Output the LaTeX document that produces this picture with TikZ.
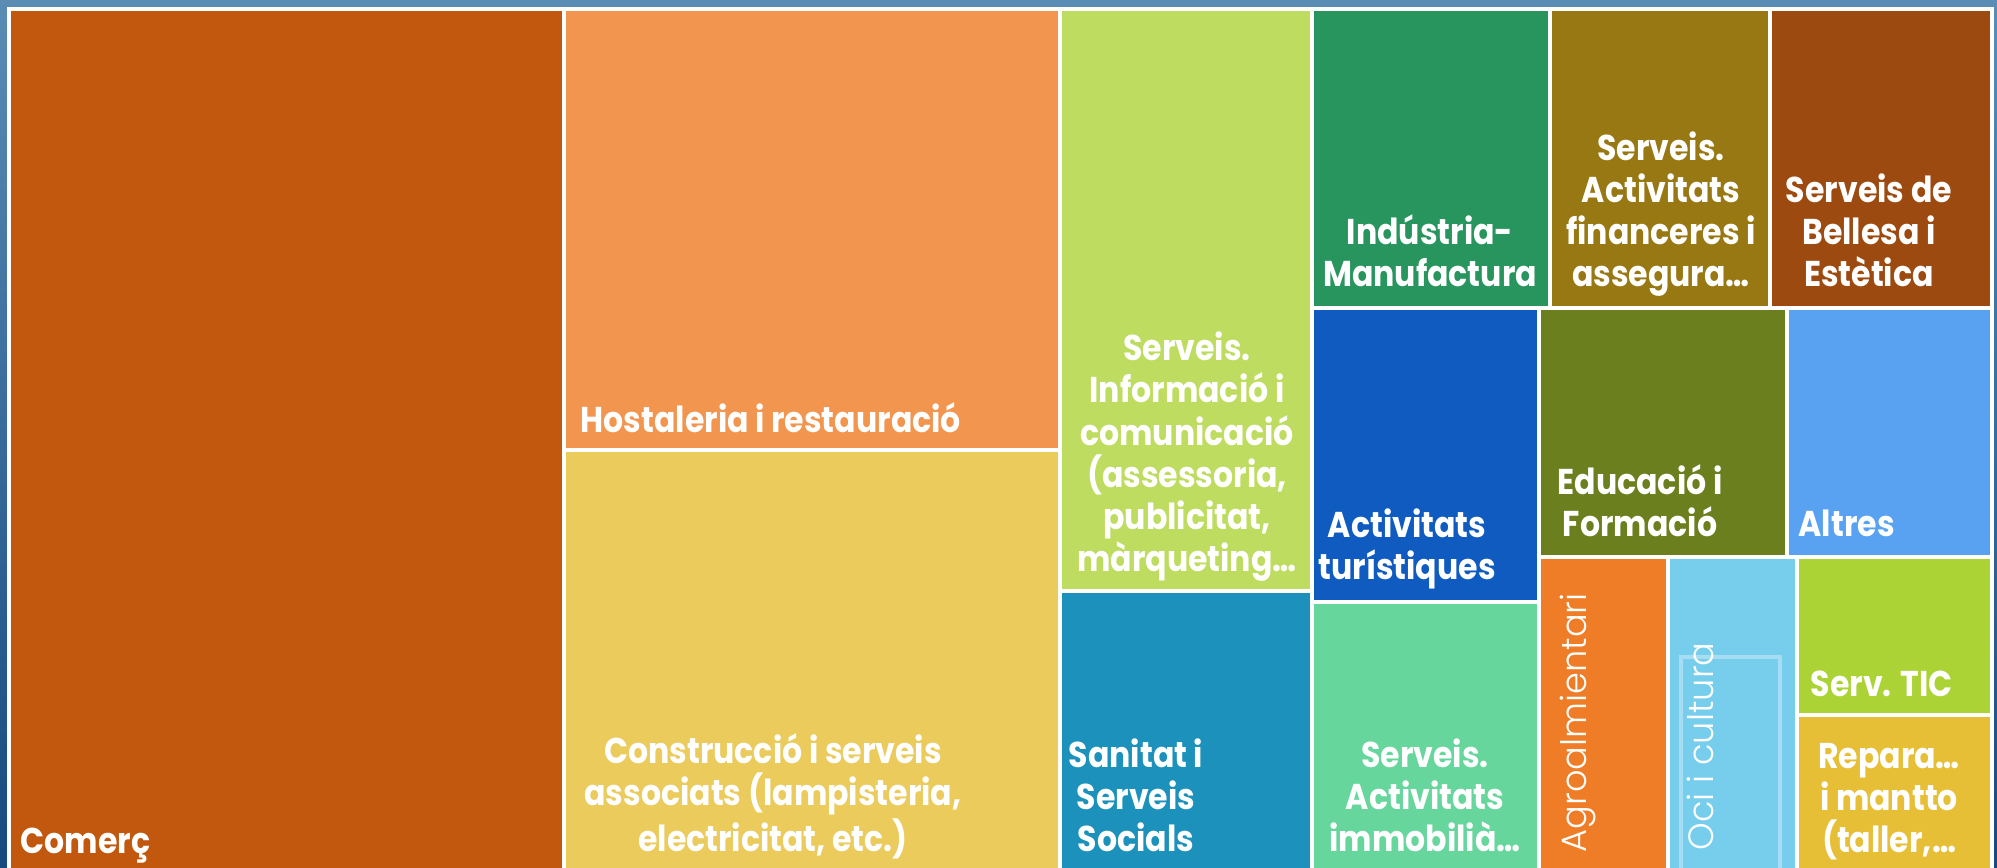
\documentclass[tikz,border=0pt]{standalone}
\usepackage{fontspec}
\setmainfont{Poppins}[FakeStretch=0.88]
\newfontfamily\lightfont{Poppins Light}
\usepackage{xcolor}
\usepackage{tikz}

\definecolor{bgtop}{HTML}{5B8CB4}
\definecolor{bgbot}{HTML}{17497F}
\definecolor{comerc}{HTML}{C2570E}
\definecolor{hostal}{HTML}{F2954F}
\definecolor{constr}{HTML}{EACB5C}
\definecolor{inform}{HTML}{BEDC5F}
\definecolor{sanitat}{HTML}{1C91BB}
\definecolor{industr}{HTML}{27955D}
\definecolor{financ}{HTML}{987812}
\definecolor{bellesa}{HTML}{9C4A10}
\definecolor{turism}{HTML}{0F5BBF}
\definecolor{immob}{HTML}{66D69D}
\definecolor{educ}{HTML}{6B7F1F}
\definecolor{altres}{HTML}{59A2F1}
\definecolor{agro}{HTML}{EF7C26}
\definecolor{oci}{HTML}{77CEEC}
\definecolor{tic}{HTML}{ABD335}
\definecolor{repara}{HTML}{E6BF36}
\definecolor{ociline}{HTML}{A6DDF3}

\tikzset{
	cell/.style={draw=white,line width=0.9pt},
	lbl/.style={text=white,font=\bfseries\fontsize{10.2}{12}\selectfont,align=center,inner sep=0pt,anchor=south},
	vlbl/.style={text=white,font=\lightfont\fontsize{10}{11}\selectfont,inner sep=0pt,rotate=90,anchor=base west},
}

\begin{document}
\begin{tikzpicture}[x=0.01cm,y=-0.01cm]
	\useasboundingbox (0,0) rectangle (1997,868);
	\shade[top color=bgtop,bottom color=bgbot] (0,0) rectangle (1997,868);
	% cells
	\fill[comerc,cell] (9,9) rectangle (564,880);
	\fill[hostal,cell] (564,9) rectangle (1060,450);
	\fill[constr,cell] (564,450) rectangle (1060,880);
	\fill[inform,cell] (1060,9) rectangle (1312,591);
	\fill[sanitat,cell] (1060,591) rectangle (1312,880);
	\fill[industr,cell] (1312,9) rectangle (1550,308);
	\fill[financ,cell] (1550,9) rectangle (1770,308);
	\fill[bellesa,cell] (1770,9) rectangle (1992,308);
	\fill[turism,cell] (1312,308) rectangle (1539,602);
	\fill[immob,cell] (1312,602) rectangle (1539,880);
	\fill[educ,cell] (1539,308) rectangle (1787,557);
	\fill[altres,cell] (1787,308) rectangle (1992,557);
	\fill[agro,cell] (1539,557) rectangle (1668,880);
	\fill[oci,cell] (1668,557) rectangle (1797,880);
	\fill[tic,cell] (1797,557) rectangle (1992,715);
	\fill[repara,cell] (1797,715) rectangle (1992,880);
	\draw[ociline,line width=0.9pt] (1681,880) |- (1780,657) -- (1780,880);
	% labels
	\node[lbl,anchor=south west] (comerc) at (20,867) {Comerç\strut};
	\node[lbl,anchor=south west] (hostal) at (580,446) {Hostaleria i restauració\strut};
	\node[lbl] (constr) at (773,865) {Construcció i serveis\\associats (lampisteria,\\electricitat, etc.)\strut};
	\node[lbl] (inform) at (1187,585) {Serveis.\\Informació i\\comunicació\\(assessoria,\\publicitat,\\màrqueting…\strut};
	\node[lbl] (sanitat) at (1136,865) {Sanitat i\\Serveis\\Socials\strut};
	\node[lbl] (industr) at (1430,300) {Indústria-\\Manufactura\strut};
	\node[lbl] (financ) at (1661,300) {Serveis.\\Activitats\\financeres i\\assegura…\strut};
	\node[lbl] (bellesa) at (1869,300) {Serveis de\\Bellesa i\\Estètica\strut};
	\node[lbl] (turism) at (1407,593) {Activitats\\turístiques\strut};
	\node[lbl] (immob) at (1425,865) {Serveis.\\Activitats\\immobilià…\strut};
	\node[lbl] (educ) at (1640,550) {Educació i\\Formació\strut};
	\node[lbl,anchor=south west] (altres) at (1798,550) {Altres\strut};
	\node[vlbl] (agro) at (1586,853) {Agroalmientari};
	\node[vlbl] (oci) at (1713,851) {Oci i cultura};
	\node[lbl,anchor=south west] (tic) at (1810,710) {Serv. TIC\strut};
	\node[lbl] (repara) at (1889,866) {Repara…\\i mantto\\(taller,…\strut};
\end{tikzpicture}
\end{document}
